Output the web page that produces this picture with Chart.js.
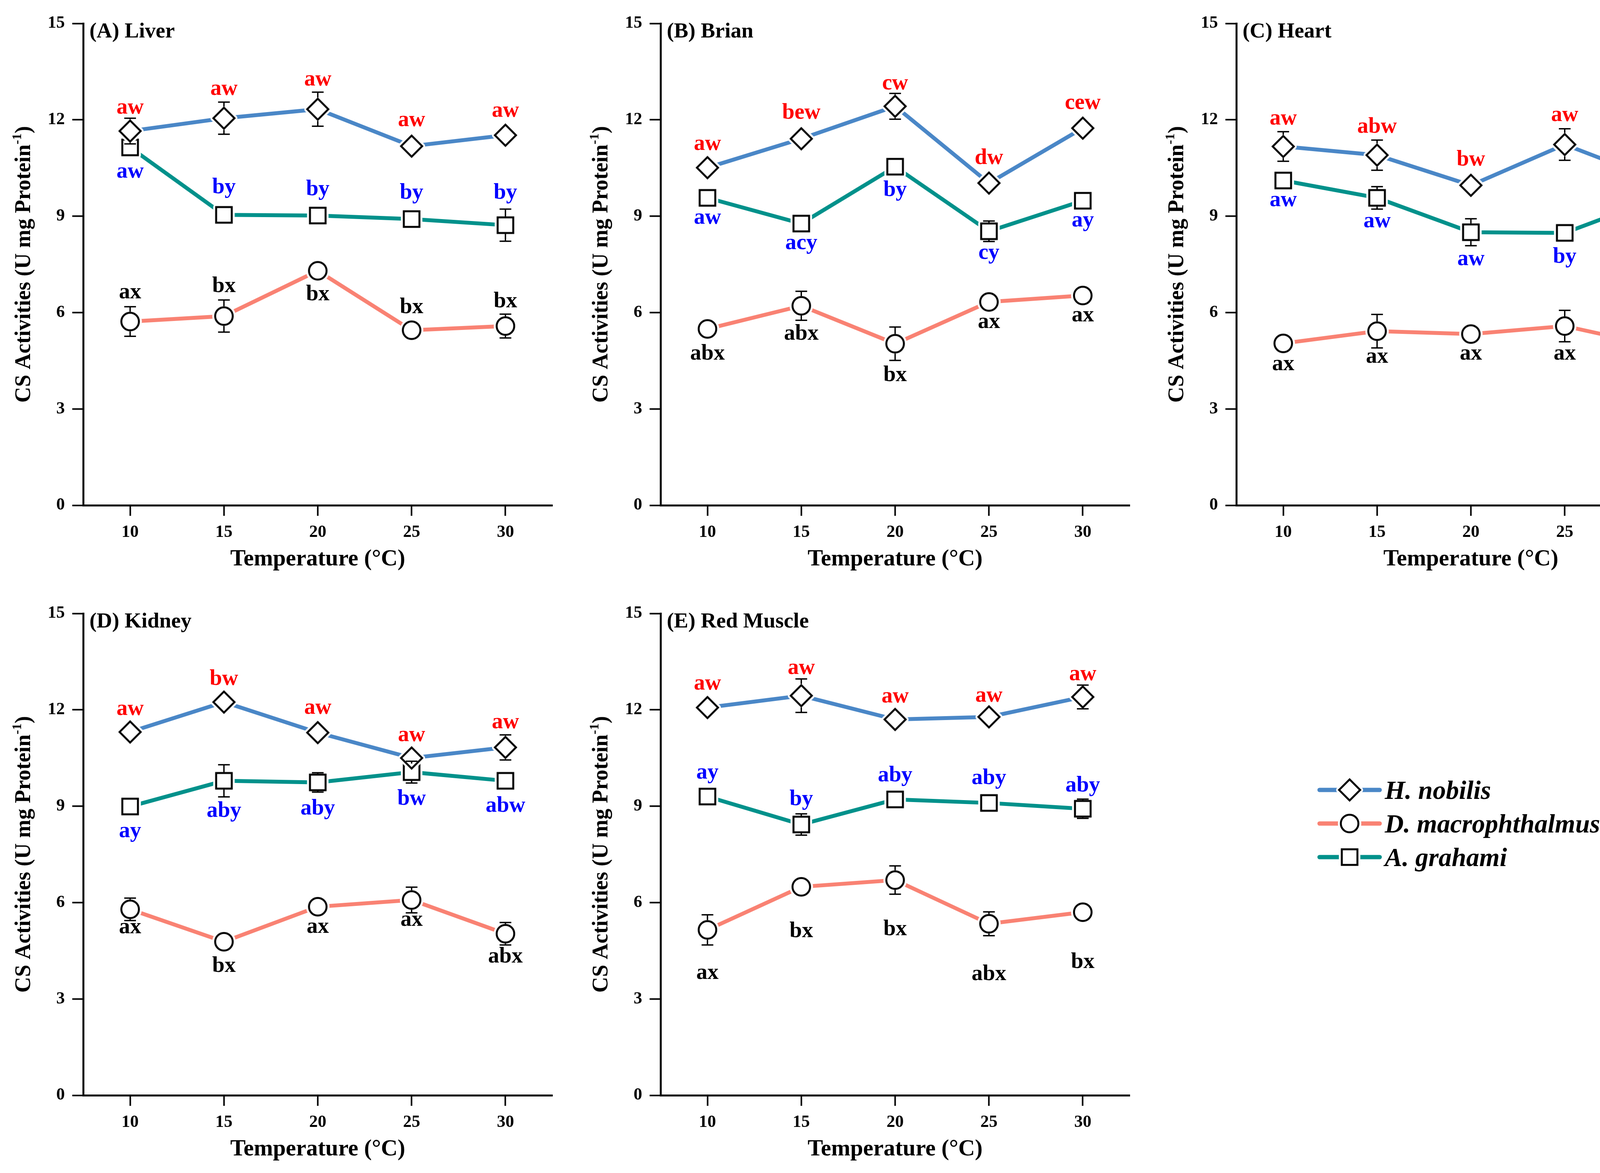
<!DOCTYPE html>
<html lang="en">
<head>
<meta charset="UTF-8">
<title>CS Activities vs Temperature</title>
<script src="https://cdn.jsdelivr.net/npm/chart.js"></script>
<style>
  body {
    margin: 0;
    width: 4404px;
    height: 3004px;
    background: #fff;
    position: relative;
    overflow: hidden;
  }
  .panel { position: absolute; height: 1480px; }
  .legend { position: absolute; left: 3372px; top: 1980px; }
  .legend-row { display: flex; align-items: center; height: 86px; }
  .legend-row span {
    font: italic bold 67px "Liberation Serif", serif;
    margin-left: 7px;
    color: #000;
  }
</style>
</head>
<body>
  <div class="panel" style="left:0;top:0;width:1460px"><canvas id="p0"></canvas></div>
  <div class="panel" style="left:1478px;top:0;width:1460px"><canvas id="p1"></canvas></div>
  <div class="panel" style="left:2952px;top:0;width:1452px"><canvas id="p2"></canvas></div>
  <div class="panel" style="left:0;top:1511px;width:1460px"><canvas id="p3"></canvas></div>
  <div class="panel" style="left:1478px;top:1511px;width:1460px"><canvas id="p4"></canvas></div>

  <div class="legend" id="legend"></div>

  <script>
    // ---- data ----
    const temps = [10, 15, 20, 25, 30];
    const yTicks = [0, 3, 6, 9, 12, 15];
    const panelTitles = ['(A) Liver', '(B) Brian', '(C) Heart', '(D) Kidney', '(E) Red Muscle'];
    const seriesNames = ['H. nobilis', 'D. macrophthalmus', 'A. grahami'];

    // one row per panel (Liver, Brian, Heart, Kidney, Red Muscle)
    const nobilisMean = [
      [11.65, 12.05, 12.33, 11.18, 11.52],
      [10.51, 11.41, 12.42, 10.03, 11.74],
      [11.17, 10.90, 9.96, 11.23, 10.11],
      [11.31, 12.24, 11.29, 10.50, 10.83],
      [12.07, 12.44, 11.70, 11.78, 12.40]
    ];
    const nobilisSE = [
      [0.40, 0.50, 0.53, 0.15, 0.15],
      [0.15, 0.15, 0.40, 0.15, 0.15],
      [0.46, 0.47, 0.15, 0.49, 0.15],
      [0.15, 0.15, 0.15, 0.15, 0.39],
      [0.15, 0.52, 0.15, 0.15, 0.37]
    ];
    const grahamiMean = [
      [11.14, 9.04, 9.02, 8.91, 8.72],
      [9.57, 8.77, 10.54, 8.53, 9.48],
      [10.11, 9.57, 8.50, 8.48, 9.57],
      [8.99, 9.79, 9.74, 10.06, 9.79],
      [9.30, 8.43, 9.21, 9.10, 8.92]
    ];
    const grahamiSE = [
      [0.20, 0.20, 0.20, 0.20, 0.50],
      [0.20, 0.20, 0.20, 0.32, 0.20],
      [0.20, 0.35, 0.42, 0.20, 0.20],
      [0.20, 0.50, 0.30, 0.34, 0.20],
      [0.20, 0.33, 0.20, 0.20, 0.30]
    ];
    const macroMean = [
      [5.72, 5.89, 7.30, 5.45, 5.58],
      [5.49, 6.21, 5.03, 6.33, 6.53],
      [5.04, 5.42, 5.33, 5.58, 4.94],
      [5.79, 4.78, 5.87, 6.08, 5.03],
      [5.15, 6.49, 6.70, 5.34, 5.70]
    ];
    const macroSE = [
      [0.46, 0.50, 0.20, 0.20, 0.37],
      [0.20, 0.45, 0.52, 0.20, 0.20],
      [0.20, 0.52, 0.20, 0.49, 0.51],
      [0.35, 0.20, 0.20, 0.40, 0.35],
      [0.47, 0.20, 0.44, 0.37, 0.20]
    ];

    // significance letters and the value at which each one sits
    const nobilisLetters = [
      ['aw', 'aw', 'aw', 'aw', 'aw'],
      ['aw', 'bew', 'cw', 'dw', 'cew'],
      ['aw', 'abw', 'bw', 'aw', 'bw'],
      ['aw', 'bw', 'aw', 'aw', 'aw'],
      ['aw', 'aw', 'aw', 'aw', 'aw']
    ];
    const nobilisLetterY = [
      [12.36, 12.94, 13.24, 11.97, 12.26],
      [11.23, 12.21, 13.11, 10.79, 12.51],
      [12.02, 11.77, 10.74, 12.13, 10.89],
      [12.01, 12.94, 12.05, 11.20, 11.60],
      [12.80, 13.29, 12.40, 12.42, 13.09]
    ];
    const grahamiLetters = [
      ['aw', 'by', 'by', 'by', 'by'],
      ['aw', 'acy', 'by', 'cy', 'ay'],
      ['aw', 'aw', 'aw', 'by', 'by'],
      ['ay', 'aby', 'aby', 'bw', 'abw'],
      ['ay', 'by', 'aby', 'aby', 'aby']
    ];
    const grahamiLetterY = [
      [10.37, 9.88, 9.82, 9.71, 9.71],
      [8.94, 8.14, 9.80, 7.84, 8.85],
      [9.48, 8.82, 7.64, 7.72, 8.79],
      [8.21, 8.84, 8.91, 9.22, 8.99],
      [10.03, 9.20, 9.94, 9.86, 9.63]
    ];
    const macroLetters = [
      ['ax', 'bx', 'bx', 'bx', 'bx'],
      ['abx', 'abx', 'bx', 'ax', 'ax'],
      ['ax', 'ax', 'ax', 'ax', 'ax'],
      ['ax', 'bx', 'ax', 'ax', 'abx'],
      ['ax', 'bx', 'bx', 'abx', 'bx']
    ];
    const macroLetterY = [
      [6.61, 6.81, 6.55, 6.15, 6.33],
      [4.70, 5.32, 4.03, 5.69, 5.89],
      [4.38, 4.61, 4.70, 4.70, 4.03],
      [5.21, 4.01, 5.23, 5.44, 4.30],
      [3.79, 5.09, 5.15, 3.76, 4.13]
    ];

    // ---- styles ----
    const FONT = '"Liberation Serif", "Times New Roman", serif';
    const lineColors = { nobilis: '#4a87c7', macro: '#f98273', grahami: '#00918b' };
    const letterColors = { nobilis: '#ff0000', macro: '#000000', grahami: '#0000ff' };

    Chart.defaults.font.family = FONT;
    Chart.defaults.font.weight = 'bold';
    Chart.defaults.color = '#000';

    // marker shapes with a thin white halo so lines stop just short of them
    function markerPath(g, type) {
      g.beginPath();
      if (type === 'diamond') {
        g.moveTo(0, -27); g.lineTo(27, 0); g.lineTo(0, 27); g.lineTo(-27, 0); g.closePath();
      } else if (type === 'square') {
        g.rect(-20, -20, 40, 40);
      } else {
        g.arc(0, 0, 22.5, 0, Math.PI * 2);
      }
    }
    function makeMarker(type) {
      const c = document.createElement('canvas');
      c.width = 90; c.height = 90;
      const g = c.getContext('2d');
      g.translate(45, 45);
      markerPath(g, type);
      g.lineJoin = 'round';
      g.lineWidth = 15;
      g.strokeStyle = '#fff';
      g.stroke();
      g.fillStyle = '#fff';
      g.fill();
      g.lineJoin = 'miter';
      g.lineWidth = 5;
      g.strokeStyle = '#000';
      g.stroke();
      return c;
    }
    const markers = { diamond: makeMarker('diamond'), circle: makeMarker('circle'), square: makeMarker('square') };
    const markerHalf = { diamond: 30, circle: 25, square: 22 };

    // error bars, only the part outside the marker
    const errorBars = {
      id: 'errorBars',
      afterDatasetsDraw(chart) {
        const ctx = chart.ctx;
        const y = chart.scales.y;
        ctx.save();
        ctx.strokeStyle = '#000';
        ctx.lineWidth = 3.5;
        chart.data.datasets.forEach((ds, di) => {
          const meta = chart.getDatasetMeta(di);
          const r = markerHalf[ds.marker];
          ds.data.forEach((p, i) => {
            const px = meta.data[i].x;
            const py = meta.data[i].y;
            const top = y.getPixelForValue(p.y + ds.se[i]);
            const bot = y.getPixelForValue(p.y - ds.se[i]);
            ctx.beginPath();
            if (top < py - r) {
              ctx.moveTo(px, py - r); ctx.lineTo(px, top);
              ctx.moveTo(px - 15, top); ctx.lineTo(px + 15, top);
            }
            if (bot > py + r) {
              ctx.moveTo(px, py + r); ctx.lineTo(px, bot);
              ctx.moveTo(px - 15, bot); ctx.lineTo(px + 15, bot);
            }
            ctx.stroke();
          });
        });
        ctx.restore();
      }
    };

    const letterLabels = {
      id: 'letterLabels',
      afterDatasetsDraw(chart) {
        const ctx = chart.ctx;
        const y = chart.scales.y;
        ctx.save();
        ctx.font = 'bold 57px ' + FONT;
        ctx.textAlign = 'center';
        ctx.textBaseline = 'alphabetic';
        chart.data.datasets.forEach((ds, di) => {
          const meta = chart.getDatasetMeta(di);
          ctx.fillStyle = ds.letterColor;
          ds.letters.forEach((t, i) => {
            ctx.fillText(t, meta.data[i].x, y.getPixelForValue(ds.letterY[i]) + 14);
          });
        });
        ctx.restore();
      }
    };

    const panelText = {
      id: 'panelText',
      afterDraw(chart, args, opts) {
        const ctx = chart.ctx;
        const a = chart.chartArea;
        ctx.save();
        ctx.fillStyle = '#000';
        ctx.font = 'bold 55px ' + FONT;
        ctx.textAlign = 'left';
        ctx.textBaseline = 'middle';
        ctx.fillText(opts.title, a.left + 16, a.top + 22);

        // y axis title with superscript
        ctx.translate(63, (a.top + a.bottom) / 2);
        ctx.rotate(-Math.PI / 2);
        const mainFont = 'bold 56px ' + FONT;
        const supFont = 'bold 34px ' + FONT;
        const t1 = 'CS Activities (U mg Protein', t2 = '-1', t3 = ')';
        ctx.font = mainFont;
        const w1 = ctx.measureText(t1).width, w3 = ctx.measureText(t3).width;
        ctx.font = supFont;
        const w2 = ctx.measureText(t2).width;
        let x = -(w1 + w2 + w3) / 2;
        ctx.textBaseline = 'middle';
        ctx.font = mainFont;
        ctx.fillText(t1, x, 0);
        x += w1;
        ctx.font = supFont;
        ctx.fillText(t2, x, -18);
        x += w2;
        ctx.font = mainFont;
        ctx.fillText(t3, x, 0);
        ctx.restore();
      }
    };

    function series(name, mean, se, letters, letterY, key, marker) {
      return {
        label: name,
        data: temps.map((t, i) => ({ x: t, y: mean[i] })),
        se: se,
        letters: letters,
        letterY: letterY,
        letterColor: letterColors[key],
        marker: marker,
        borderColor: lineColors[key],
        borderWidth: 10,
        pointStyle: markers[marker],
        pointRadius: 20,
        tension: 0,
        clip: false
      };
    }

    function buildChart(idx) {
      const canvas = document.getElementById('p' + idx);
      const W = canvas.parentNode.clientWidth;
      const datasets = [
        series(seriesNames[0], nobilisMean[idx], nobilisSE[idx], nobilisLetters[idx], nobilisLetterY[idx], 'nobilis', 'diamond'),
        series(seriesNames[2], grahamiMean[idx], grahamiSE[idx], grahamiLetters[idx], grahamiLetterY[idx], 'grahami', 'square'),
        series(seriesNames[1], macroMean[idx], macroSE[idx], macroLetters[idx], macroLetterY[idx], 'macro', 'circle')
      ];
      new Chart(canvas, {
        type: 'line',
        data: { datasets: datasets },
        options: {
          responsive: true,
          maintainAspectRatio: false,
          animation: false,
          events: [],
          layout: { padding: { top: 60, right: W - 1414, left: 0, bottom: 0 } },
          plugins: {
            legend: { display: false },
            tooltip: { enabled: false },
            panelText: { title: panelTitles[idx] }
          },
          scales: {
            x: {
              type: 'linear',
              min: 7.5,
              max: 32.5,
              afterBuildTicks: s => { s.ticks = temps.map(v => ({ value: v })); },
              afterFit: s => { s.height = 186; },
              grid: { display: true, drawOnChartArea: false, drawTicks: true, tickLength: 27, tickColor: '#000', tickWidth: 4 },
              border: { display: true, color: '#000', width: 5 },
              ticks: { font: { size: 44, weight: 'bold' }, padding: 16, color: '#000' },
              title: { display: true, text: 'Temperature (°C)', font: { size: 59, weight: 'bold' }, padding: { top: 0, bottom: 12 }, color: '#000' }
            },
            y: {
              min: 0,
              max: 15,
              afterBuildTicks: s => { s.ticks = yTicks.map(v => ({ value: v })); },
              afterFit: s => { s.width = 213; },
              grid: { display: true, drawOnChartArea: false, drawTicks: true, tickLength: 28, tickColor: '#000', tickWidth: 4 },
              border: { display: true, color: '#000', width: 5 },
              ticks: { font: { size: 44, weight: 'bold' }, padding: 19, color: '#000' }
            }
          }
        },
        plugins: [errorBars, letterLabels, panelText]
      });
    }

    for (let i = 0; i < 5; i++) buildChart(i);

    // legend in the empty sixth slot
    const legendItems = [
      { name: seriesNames[0], key: 'nobilis', marker: 'diamond' },
      { name: seriesNames[1], key: 'macro', marker: 'circle' },
      { name: seriesNames[2], key: 'grahami', marker: 'square' }
    ];
    const legend = document.getElementById('legend');
    legendItems.forEach(item => {
      const row = document.createElement('div');
      row.className = 'legend-row';
      const c = document.createElement('canvas');
      c.width = 166; c.height = 86;
      const g = c.getContext('2d');
      g.strokeStyle = lineColors[item.key];
      g.lineWidth = 11;
      g.lineCap = 'round';
      g.beginPath();
      g.moveTo(6, 43); g.lineTo(160, 43);
      g.stroke();
      g.drawImage(markers[item.marker], 83 - 45, 43 - 45);
      const s = document.createElement('span');
      s.textContent = item.name;
      row.appendChild(c);
      row.appendChild(s);
      legend.appendChild(row);
    });
  </script>
</body>
</html>
